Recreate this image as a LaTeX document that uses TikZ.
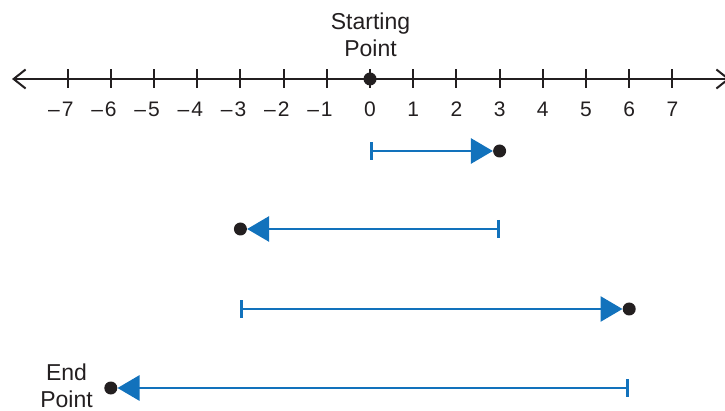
\documentclass[tikz,border=0pt]{standalone}
\usepackage{fontspec}
\setmainfont{Liberation Sans}
\usetikzlibrary{arrows.meta}
\definecolor{inkblack}{RGB}{35,31,32}
\definecolor{moveblue}{RGB}{18,114,188}
\tikzset{
  axistip/.tip={Straight Barb[length=12pt, width=19pt, line width=2pt]},
  axis/.style={draw=inkblack, line width=2pt, axistip-axistip},
  tickmark/.style={draw=inkblack, line width=2pt},
  numlabel/.style={anchor=base, inner sep=0pt, font=\fontsize{21}{24}\selectfont, text=inkblack},
  tag/.style={inner sep=0pt, align=center, font=\fontsize{23}{27}\selectfont, text=inkblack},
  dot/.style={circle, fill=inkblack, inner sep=0pt, minimum size=13pt},
  move/.style={draw=moveblue, line width=2.8pt,
    {Bar[width=18pt, line width=2.8pt]}-{Triangle[length=22pt, width=25pt]}},
}
\begin{document}
\begin{tikzpicture}[x=1pt, y=-1pt]
  \useasboundingbox (0,0) rectangle (725,411);

  % number line with ticks; each digit sits centred under its tick,
  % the minus sign hangs to its left
  \coordinate (lft) at (12,79);
  \coordinate (rgt) at (730,79);
  \draw[axis] (lft) -- (rgt);
  \foreach \n in {-7,...,7} {
    \pgfmathsetmacro{\xx}{370+43.2*\n}
    \draw[tickmark] (\xx,69.5) -- (\xx,88.5);
    \ifnum\n<0
      \node[numlabel] (n\n) at (\xx,116.5) {\llap{–\hspace{2pt}}\the\numexpr-\n\relax};
    \else
      \node[numlabel] (n\n) at (\xx,116.5) {\n};
    \fi
  }

  % starting point
  \node[dot] (start) at (370,79) {};
  \node[tag, anchor=south] (startlbl) at (370.5,56.5) {Starting\\Point};

  % moves along the line
  \coordinate (s1) at (370,151);
  \node[dot] (e1) at (499.6,151) {};
  \draw[move] (s1) -- (e1);

  \coordinate (s2) at (499.6,229);
  \node[dot] (e2) at (240.4,229) {};
  \draw[move] (s2) -- (e2);

  \coordinate (s3) at (240.4,309);
  \node[dot] (e3) at (629.2,309) {};
  \draw[move] (s3) -- (e3);

  \coordinate (s4) at (629.2,388);
  \node[dot] (e4) at (110.8,388) {};
  \draw[move] (s4) -- (e4);

  % end point
  \node[tag, anchor=south] (endlbl) at (66.5,407.5) {End\\Point};
\end{tikzpicture}
\end{document}
